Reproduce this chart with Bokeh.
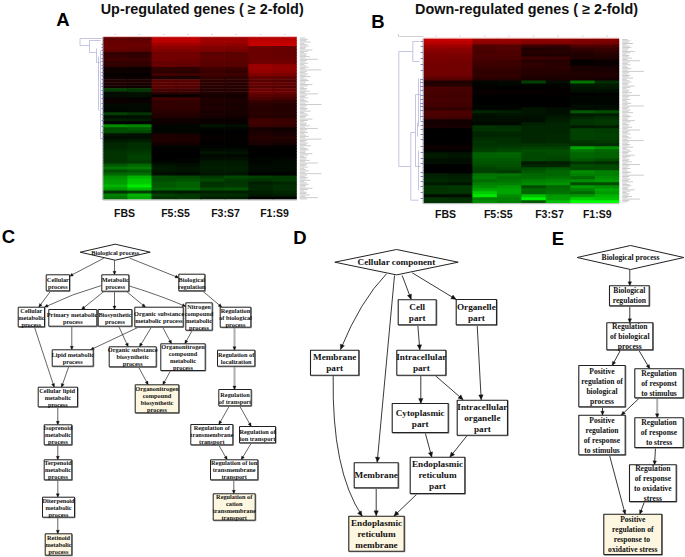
from bokeh.plotting import figure
from bokeh.models import Range1d, ColumnDataSource, LinearColorMapper
from bokeh.transform import transform
from bokeh.core.properties import value
from bokeh.embed import file_html
from bokeh.resources import INLINE
import math

# ---------- heat-map values: -1 = bright green, +1 = bright red ----------
A_FBS_1 = [.38,.40,.42,.42,.38,.20,.22,.25,.20,.20,.05,.06,.02,.05,.12,.12,.08,-.25,-.05,-.05,.03,.05,-.03,-.03,-.02,-.25,-.05,-.12,-.01,-.55,-.30,-.30,-.08,-.05,-.10,-.15,-.15,-.18,-.20,-.20,-.20,-.20,-.35,-.45,-.30,-.40,-.55,-.60,-.62,-.70,-.60,-.20,-.50,-.45]
A_FBS_2 = [.36,.38,.42,.40,.36,.18,.20,.24,.20,.18,.04,.05,.02,.04,.12,.10,.06,-.22,-.08,-.06,.02,.04,-.04,-.03,-.03,-.20,-.06,-.10,-.01,-.52,-.35,-.28,-.06,-.06,-.12,-.18,-.18,-.20,-.22,-.25,-.25,-.22,-.40,-.48,-.35,-.42,-.70,-.78,-.80,-.92,-.72,-.25,-.70,-.65]
A_F55_1 = [.75,.72,.62,.55,.50,.45,.45,.45,.40,.40,.20,.18,.25,.12,.35,.35,.35,.28,.18,.03,.25,.20,.20,.20,.17,.15,.13,.06,.06,-.02,-.02,-.02,.10,.12,.12,.08,-.01,0,0,0,0,-.02,-.07,-.10,-.08,-.05,-.30,-.30,-.35,-.35,-.40,-.12,-.25,-.20]
A_F55_2 = [.75,.72,.62,.55,.50,.45,.45,.44,.40,.38,.18,.16,.24,.10,.34,.35,.33,.27,.18,.03,.24,.20,.19,.20,.17,.15,.12,.06,.05,-.02,-.02,-.02,.09,.11,.11,.08,-.01,0,0,0,-.01,-.02,-.05,-.08,-.07,-.04,-.28,-.32,-.38,-.38,-.42,-.10,-.22,-.22]
A_F37_1 = [.62,.62,.58,.50,.48,.35,.38,.38,.35,.35,.25,.22,.25,.20,.18,.17,.15,.15,.12,.08,.12,.12,.10,.12,.10,.10,.08,.04,.04,-.08,-.02,0,.02,.03,.02,0,-.01,-.03,-.08,-.03,-.05,-.10,-.10,-.12,-.10,-.08,-.22,-.28,-.20,-.20,-.30,-.12,-.18,-.12]
A_F37_2 = [.62,.62,.56,.50,.46,.35,.36,.37,.34,.34,.24,.20,.24,.18,.17,.15,.14,.14,.12,.07,.10,.11,.09,.10,.09,.09,.07,.03,.03,-.06,-.02,0,.01,.02,.02,0,-.01,-.04,-.07,-.03,-.06,-.10,-.10,-.12,-.10,-.08,-.28,-.22,-.20,-.22,-.32,-.12,-.18,-.12]
A_F19_1 = [.72,.75,.78,.42,.42,.42,.42,.42,.44,.60,.60,.58,.50,.40,.35,.40,.35,.42,.42,.35,.28,.20,.16,.16,.15,.16,.15,.25,.25,.22,.08,.10,.12,.15,.12,.10,.02,0,0,0,-.02,-.02,-.03,-.04,-.03,0,-.25,-.20,-.12,-.15,-.15,-.12,-.10,-.01]
A_F19_2 = [.72,.74,.78,.40,.40,.40,.40,.42,.44,.55,.58,.55,.48,.38,.33,.38,.33,.40,.40,.33,.26,.18,.15,.15,.14,.15,.14,.22,.24,.20,.06,.08,.10,.14,.11,.08,.01,0,0,0,-.02,-.03,-.04,-.04,-.03,0,-.22,-.22,-.15,-.18,-.18,-.15,-.12,-.01]

B_FBS_1 = [.78,.72,.62,.55,.52,.48,.48,.46,.45,.45,.45,.45,.42,.35,.12,.14,.28,.28,.26,.26,.28,.26,.26,.20,.30,.30,.26,.08,.08,.10,0,0,0,0,0,.02,.06,-.01,-.10,-.10,-.06,-.06,0,0,0,-.12,-.14,-.16,-.10,-.20,-.20,-.20,-.05,-.20,-.20]
B_FBS_2 = [.78,.72,.62,.54,.52,.48,.47,.45,.45,.44,.45,.44,.42,.34,.12,.14,.27,.27,.26,.25,.27,.26,.25,.19,.29,.29,.25,.07,.07,.09,0,0,0,0,0,.02,.05,-.01,-.08,-.08,-.05,-.05,0,0,0,-.10,-.12,-.14,-.08,-.22,-.22,-.20,-.05,-.18,-.20]
B_F55_1 = [.60,.55,.30,.30,.28,.30,.28,.25,.25,.22,.20,.18,.20,.15,-.02,-.01,.01,.03,.03,0,0,0,-.02,-.02,-.15,-.06,-.05,-.05,-.03,-.20,-.20,-.15,-.15,-.18,-.20,-.20,-.22,-.25,-.38,-.38,-.35,-.33,-.30,-.25,-.25,-.45,-.48,-.42,-.50,-.55,-.65,-.80,-.90,-.50,-.55]
B_F55_2 = [.60,.55,.32,.32,.30,.30,.28,.24,.24,.22,.20,.18,.20,.14,-.03,-.02,.01,.03,.02,0,0,0,-.01,-.02,-.12,-.08,-.06,-.05,-.03,-.18,-.20,-.16,-.15,-.18,-.18,-.20,-.24,-.28,-.40,-.38,-.35,-.33,-.32,-.28,-.22,-.45,-.42,-.45,-.50,-.60,-.65,-.65,-.55,-.50,-.50]
B_F37_1 = [.55,.50,.22,.12,.15,.12,.25,.15,.18,.18,.15,.15,.12,.10,-.25,-.02,.01,.03,.02,0,0,0,0,-.08,-.08,-.07,-.05,-.05,-.12,-.15,-.15,-.15,-.15,-.15,-.15,-.20,-.25,-.30,-.28,-.28,-.28,-.10,-.15,-.30,-.35,-.40,-.42,-.50,-.55,-.30,-.40,-.40,-.75,-.95,-.35]
B_F37_2 = [.55,.50,.20,.14,.15,.12,.22,.15,.16,.17,.15,.14,.12,.10,-.05,-.02,.01,.02,.02,0,0,0,0,-.05,-.06,-.07,-.10,-.12,-.14,-.15,-.15,-.15,-.16,-.16,-.16,-.20,-.25,-.30,-.30,-.28,-.26,-.12,-.15,-.35,-.40,-.40,-.45,-.52,-.58,-.40,-.42,-.45,-.60,-.62,-.75]
B_F19_1 = [.50,.48,.30,.20,.15,.12,.12,.02,.02,.10,.10,.12,.12,.10,-.45,-.10,-.07,-.05,0,-.02,-.01,-.02,-.05,-.05,-.35,-.10,-.15,-.20,-.20,-.10,-.25,-.25,-.25,-.25,-.20,-.18,-.65,-.45,-.40,-.40,-.35,-.20,-.30,-.28,-.55,-.50,-.40,-.55,-.30,-.60,-.50,-.40,-.60,-.80,-1.0]
B_F19_2 = [.50,.46,.30,.22,.18,.14,.12,.04,.04,.08,.10,.12,.12,.08,-.18,-.10,-.08,-.05,-.01,-.02,-.02,-.02,-.04,-.05,-.30,-.12,-.18,-.22,-.22,-.12,-.24,-.24,-.25,-.24,-.22,-.18,-.55,-.40,-.38,-.38,-.30,-.18,-.28,-.28,-.50,-.50,-.55,-.60,-.30,-.55,-.65,-.60,-.70,-.75,-1.0]

group_labels = ["FBS", "F5:S5", "F3:S7", "F1:S9"]
title_A = "Up-regulated genes ( \u2265 2-fold)"
title_B = "Down-regulated genes ( \u2265 2-fold)"

# ---------- page layout (pixels on the page) ----------
W, H = 685, 557
HEAT_A = dict(x0=102.7, x1=296.3, y0=36.5, y1=199.0)
HEAT_B = dict(x0=423.0, x1=618.7, y0=38.0, y1=202.7)
LAB_A = [(124,212),(175,212),(225,212),(274,212)]
LAB_B = [(445,213),(497.7,213),(549,213),(596.7,213)]
PANELS = [("A",62.5,19),("B",377.5,20.5),("C",8,236),("D",299.5,236.5),("E",557.5,238)]
TITLES = [(title_A,201.7,8.5),(title_B,526,8.5)]

WHITE, CREAM = "white", "#fdf6e0"
# id, text lines, x0, y0, x1, y1, fill
NODES_C = [
 (["Cellular","process"],45.7,274.3,69,290.3,WHITE),
 (["Metabolic","process"],101.3,274.3,128.3,290.7,WHITE),
 (["Biological","regulation"],178.3,273.7,204.3,290.3,WHITE),
 (["Cellular","metabolic","process"],17.7,306.7,44,326.3,WHITE),
 (["Primary  metabolic","process"],48.3,309,96.3,325.7,WHITE),
 (["Biosynthetic","process"],97.7,309,131.3,325.7,WHITE),
 (["Organic substance","metabolic process"],134.3,306.7,182.7,326.3,WHITE),
 (["Nitrogen","compound","metabolic","process"],185.3,302.3,211.7,329.7,WHITE),
 (["Regulation","of biological","process"],219.7,306.7,250.3,326.7,WHITE),
 (["Lipid metabolic","process"],51.7,349.3,92.7,365.7,WHITE),
 (["Organic substance","biosynthetic","process"],108.7,346.3,155.7,366.3,WHITE),
 (["Organonitrogen","compound","metabolic","process"],160.3,343.3,204.7,370,WHITE),
 (["Regulation of","localization"],217,349.7,254.3,365.7,WHITE),
 (["Organonitrogen","compound","biosynthetic","process"],134.7,384.3,178.3,412.3,CREAM),
 (["Cellular  lipid","metabolic","process"],37.7,386.7,77,406.3,WHITE),
 (["Regulation","of transport"],218.3,389,250.7,405.3,WHITE),
 (["Isoprenoid","metabolic","process"],43.7,424.3,71.3,444.3,WHITE),
 (["Terpenoid","metabolic","process"],43.7,459.3,71.3,479.3,WHITE),
 (["Diterpenoid","metabolic","process"],42,496.7,74,516.7,WHITE),
 (["Retinoid","metabolic","process"],44.7,533.3,71.3,554.7,CREAM),
 (["Regulation of","transmembrane","transport"],190.3,424,232.3,444.3,WHITE),
 (["Regulation of","ion transport"],239,426,275,442.3,WHITE),
 (["Regulation of ion","transmembrane","transport"],210,459.3,257.3,479.3,WHITE),
 (["Regulation of","cation","transmembrane","transport"],212.7,493.3,254.7,519.7,CREAM),
]
EDGES_C = [
 (103.3,257.7,69,275.7),(114,259.7,114,274.3),(129.3,257.7,178.3,277.3),(50,290.7,38.3,306.7),
 (103.3,291,81,309),(114,290.7,114,309),(126,291,145,306.7),(202.3,290.7,221.3,306.7),
 (191.7,330,184.3,343.3),(71.3,325.7,71.3,349.3),(137.3,327,90,349.3),(150.7,327,139,346.3),
 (162.3,327,171,343.3),(118.3,326,127.7,346.3),(138.3,367,147.7,384.3),(170,370.3,162.3,384.3),
 (34,326.7,53.7,386.7),(68.3,366,61,386.7),(57.3,406.7,57.3,424.3),(57.3,444.3,57.3,459.3),
 (57.3,479.3,57.3,496.7),(57.3,516.7,57.3,533.3),(228.7,405.7,218.3,424),(239.3,405.7,250.7,426),
 (218.3,444.7,226.7,459.3),(250.7,442.7,240.7,459.3),(233.3,479.3,233.3,493.3),
]
CURVES_C = [(101,285,72,293,44,306.7),(128.3,285.3,160,295,185.3,306)]
GRAY_C = [(234,326.7,234,349.7),(234,366,234,389)]

NODES_D = [
 (["Cell","part"],397.7,299.3,435.7,324.3,WHITE),
 (["Organelle","part"],455.7,299,496,324.3,WHITE),
 (["Membrane","part"],310,349.7,358.3,374.7,WHITE),
 (["Intracellular","part"],396.3,349.7,445.3,374.7,WHITE),
 (["Cytoplasmic","part"],391.7,403,447.7,432,WHITE),
 (["Intracellular","organelle","part"],456.7,399.7,507,434.7,WHITE),
 (["Membrane"],353.7,462.3,397.7,487.3,WHITE),
 (["Endoplasmic","reticulum","part"],409.7,456.7,464.3,493,WHITE),
 (["Endoplasmic","reticulum","membrane"],348.3,515.7,403.7,550.7,CREAM),
]
EDGES_D = [
 (394,275,376.7,461.7),(401.7,275,410.7,299),(411.7,272.3,455.7,299),(417.3,324.7,419.3,349.3),
 (476.7,324.7,480.7,399.3),(420.3,375,420.3,403),(434.7,375,462.7,399.3),(424.7,432.3,431.3,456.7),
 (466.7,435,449.3,456.7),(375.7,487.7,375.7,515.3),(416.7,493.3,393.3,515.7),
]
CURVES_D = [(386,273.3,360,300,340,349),(332.7,375,331,470,361.7,515.7)]

NODES_E = [
 (["Biological","regulation"],609,285.3,648.7,305.3,WHITE),
 (["Regulation","of biological","process"],606.3,322.3,652.3,349.3,WHITE),
 (["Positive","regulation of","biological","process"],578.3,365,624.7,406.3,WHITE),
 (["Regulation","of responst","to stimulus"],634.3,368.3,682.7,397.3,WHITE),
 (["Positive","regulation","of response","to stimulus"],578.3,414.7,624.7,454.3,WHITE),
 (["Regulation","of response","to stress"],634.3,417.3,682.7,447,WHITE),
 (["Regulation","of response","to oxidative","stress"],629,464.3,675.7,501,WHITE),
 (["Positive","regulation of","response  to","oxidative stress"],603.3,513.7,661.3,554,CREAM),
]
EDGES_E = [
 (629.3,269,629.3,285.3),(629.3,305.3,629.3,322.3),(620,349.7,611.7,365),(638.3,349.7,649.3,368.3),
 (602,406.3,602,414.7),(638.7,397.7,620.7,414.7),(655,447.3,654,464.3),(644,501,639.3,513.7),
 (609,454.7,624.7,513.7),
]
GRAY_E = [(656.7,397.7,656.7,417.3)]

DIAMONDS = [("Biological process",114.7,251.7,35,8,6.3),("Cellular component",396,261.7,61.7,12.7,9.2),("Biological process",630,257,53.3,12,7.6)]

# light blue tree of each heat map: x0,y0,x1,y1
TREE_LIGHT = [
 (79.5,38,79.5,45),(79.5,38,102,38),(79.5,45,89,45),(89,40,89,52),(89,52,96,52),(89,40,100,40),
 (96,48,96,62),(96,62,100,62),(98,56,98,78),(100,50,100,139),(98,70,98,110),
 (398.3,51,398.3,166),(398.3,51,412.3,51),(398.3,166,410.3,166),(412.3,41,412.3,61),(412.3,41,419,41),(412.3,61,419,61),
 (410.3,132,410.3,199.7),(410.3,132,415,132),(410.3,199.7,418,199.7),(415,94,415,166),(415,94,420,94),(415,166,420,166),
 (418,78,418,126),(418,150,418,190),(420,78,420,120),(417,122,417,136),
]
TREE_DARK_A = [(101,y,103,y) for y in (44,47,50,54,58,61,65,68,72,75,79,83,86,90,94,98,103,108,114,120,126,132,138)]
TREE_DARK_B = [(420,y,423,y) for y in (41,46,52,58,64,70,79,82,86,90,95,99,103,106,110,116,121,125,129,134,139,146,152,158,163,172,176,181,186,192,198)]
LABEL_LEN = [6,9,7,12,5,8,10,7,6,14,9,5,8,7,11,6,20,8,6,9,5,7,10,6,24,8]

p = figure(width=W, height=H, x_range=Range1d(0, W), y_range=Range1d(H, 0),
           output_backend="svg", toolbar_location=None, min_border=0, outline_line_color=None)
p.axis.visible = False
p.grid.visible = False

palette = ["#%02x%02x00" % (0, int(255*(255-i)/255)) for i in range(256)] + \
          ["#%02x%02x00" % (int(255*i/255), 0) for i in range(1, 256)]
cmap = LinearColorMapper(palette=palette, low=-1, high=1)

def heatmap(cols, box):
    n, k = len(cols[0]), len(cols)
    dx, dy = (box["x1"]-box["x0"])/k, (box["y1"]-box["y0"])/n
    d = dict(l=[], r=[], t=[], b=[], v=[])
    for j, col in enumerate(cols):
        for i, v in enumerate(col):
            d["l"].append(box["x0"]+j*dx)
            d["r"].append(min(box["x0"]+(j+1)*dx+.7, box["x1"]))
            d["t"].append(box["y0"]+i*dy)
            d["b"].append(min(box["y0"]+(i+1)*dy+.7, box["y1"]))
            d["v"].append(v)
    c = transform("v", cmap)
    p.quad(left="l", right="r", top="t", bottom="b", source=ColumnDataSource(d),
           fill_color=c, line_color=None)
    p.segment([box["x0"]-.5], [box["y0"]], [box["x0"]-.5], [box["y1"]+.5], line_color="#b4b4be", line_width=1)
    p.segment([box["x0"]], [box["y1"]+.5], [box["x1"]], [box["y1"]+.5], line_color="#b9b9b9", line_width=1)
    p.segment([box["x0"]], [box["y0"]-.3], [box["x1"]], [box["y0"]-.3], line_color="#e8a0a0", line_width=.8)
    # unreadable gene names at the right of the map, column marks above it
    ys = [box["y0"]+1+1.33*m for m in range(int((box["y1"]-box["y0"])/1.33))]
    x0 = [box["x1"]+3]*len(ys)
    x1 = [box["x1"]+3+LABEL_LEN[m % len(LABEL_LEN)]*.9 for m in range(len(ys))]
    p.segment(x0, ys, x1, ys, line_color="#c6c6c6", line_width=.9)
    mx = [box["x0"]+(j+.5)*dx for j in range(k)]
    p.segment([m-1 for m in mx], [box["y0"]-2.5]*k, [m+1 for m in mx], [box["y0"]-2.5]*k, line_color="#cfcfcf", line_width=.8)

heatmap([A_FBS_1,A_FBS_2,A_F55_1,A_F55_2,A_F37_1,A_F37_2,A_F19_1,A_F19_2], HEAT_A)
heatmap([B_FBS_1,B_FBS_2,B_F55_1,B_F55_2,B_F37_1,B_F37_2,B_F19_1,B_F19_2], HEAT_B)

for segs, col, lw in [(TREE_LIGHT,"#b6b6de",.8),(TREE_DARK_A,"#6a6ac4",.8),(TREE_DARK_B,"#6a6ac4",.8)]:
    p.segment([s[0] for s in segs],[s[1] for s in segs],[s[2] for s in segs],[s[3] for s in segs],line_color=col,line_width=lw)
p.segment([398,398],[36,36],[423,398],[36,33.5],line_color="#c4c4c4",line_width=.8)

def labels(items, font, size, style="bold", color="#111111"):
    p.text([i[1] for i in items],[i[2] for i in items],text=[i[0] for i in items],
           text_align="center",text_baseline="middle",text_font=value(font),
           text_font_size=f"{size}px",text_font_style=style,text_color=color)

labels(TITLES,"Liberation Sans",14.4)
labels([(t,x,y) for (x,y),t in zip(LAB_A,group_labels)],"Liberation Sans",10.5)
labels([(t,x,y) for (x,y),t in zip(LAB_B,group_labels)],"Liberation Sans",10.5)
labels(PANELS,"Liberation Sans",18.5,color="black")

def arrow_xy(x0,y0,x1,y1,size):
    a = math.atan2(y1-y0,x1-x0); w = size*.45
    bx,by = x1-size*math.cos(a), y1-size*math.sin(a)
    return ([x1,bx-w*math.sin(a),bx+w*math.sin(a)],[y1,by+w*math.cos(a),by-w*math.cos(a)])

def graph(nodes, edges, curves, gray, fsize, leading, asize, lw, blw):
    xs=[];ys=[]
    if edges:
        p.segment([e[0] for e in edges],[e[1] for e in edges],[e[2] for e in edges],[e[3] for e in edges],line_color="#222222",line_width=lw)
        for e in edges:
            a,b = arrow_xy(*e,asize); xs.append(a); ys.append(b)
    for c in curves:
        p.quadratic(x0=[c[0]],y0=[c[1]],cx=[c[2]],cy=[c[3]],x1=[c[4]],y1=[c[5]],line_color="#222222",line_width=lw)
        a,b = arrow_xy(c[2],c[3],c[4],c[5],asize); xs.append(a); ys.append(b)
    for g in gray:
        p.segment([g[0]],[g[1]],[g[2]],[g[3]],line_color="#b0b0b0",line_width=2)
        a,b = arrow_xy(*g,asize); xs.append(a); ys.append(b)
    p.patches(xs,ys,fill_color="#111111",line_color="#111111",line_width=.3)
    p.quad(left=[n[1]+.6 for n in nodes],right=[n[3]+.6 for n in nodes],top=[n[2]+.6 for n in nodes],bottom=[n[4]+.6 for n in nodes],
           fill_color=None,line_color="#8a8a8a",line_width=blw)
    p.quad(left=[n[1] for n in nodes],right=[n[3] for n in nodes],top=[n[2] for n in nodes],bottom=[n[4] for n in nodes],
           fill_color=[n[5] for n in nodes],line_color="#222222",line_width=blw)
    items=[]
    for n in nodes:
        cx,cy=(n[1]+n[3])/2,(n[2]+n[4])/2
        L=n[0]
        for i,t in enumerate(L):
            items.append((t,cx,cy+(i-(len(L)-1)/2)*leading))
    labels(items,"Liberation Serif",fsize)

graph(NODES_C,EDGES_C,CURVES_C,GRAY_C,6.3,7,3.5,.7,1)
graph(NODES_D,EDGES_D,CURVES_D,[],9.2,11,5,.9,1.1)
graph(NODES_E,EDGES_E,[],GRAY_E,7.6,10,4,.9,1.1)

for t,cx,cy,hw,hh,fs in DIAMONDS:
    p.patches([[cx-hw,cx,cx+hw,cx]],[[cy,cy-hh,cy,cy+hh]],fill_color="white",line_color="#222222",line_width=1)
    labels([(t,cx,cy)],"Liberation Serif",fs)

open("out.html","w").write(file_html(p,INLINE))
